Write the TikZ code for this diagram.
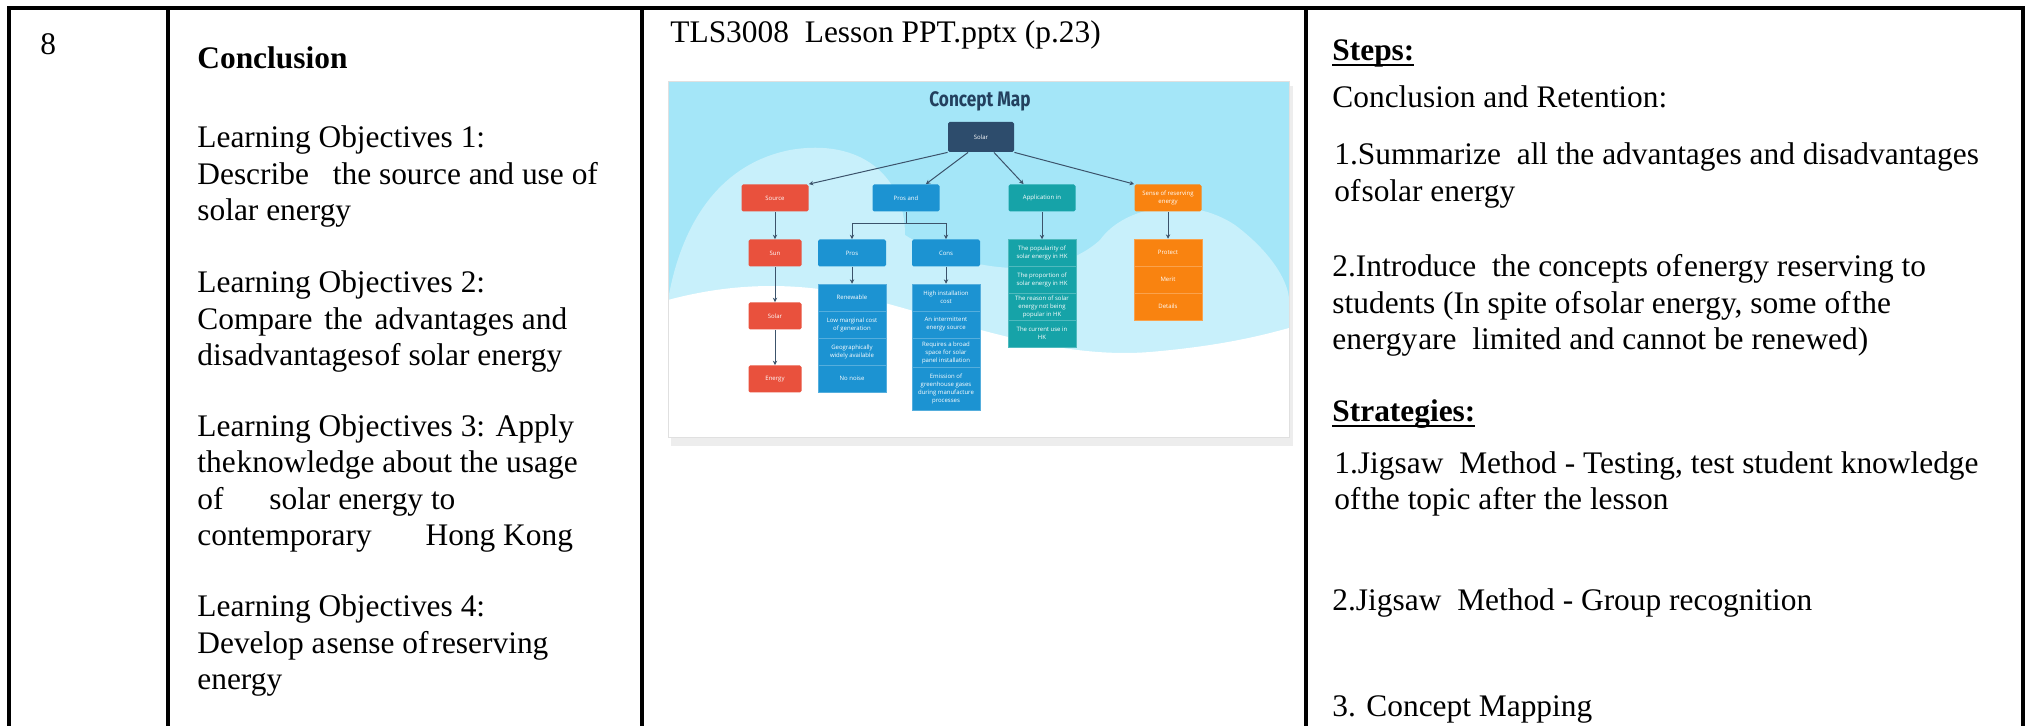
\documentclass[tikz,border=0pt]{standalone}
\usepackage{fontspec}
\setmainfont{Liberation Serif}
\newfontfamily\mapfont{Open Sans}
\newfontfamily\maptitlefont[FakeStretch=0.82]{Fira Sans}
\usetikzlibrary{arrows.meta,positioning,calc}

\definecolor{mapsky}{HTML}{A4E6F8}
\definecolor{mapcloud}{HTML}{C8F0FB}
\definecolor{maptitle}{HTML}{23405E}
\definecolor{mapnavy}{HTML}{2D4C6C}
\definecolor{mapred}{HTML}{E9513D}
\definecolor{mapblue}{HTML}{1C93D2}
\definecolor{mapteal}{HTML}{16A3A8}
\definecolor{maporange}{HTML}{F98310}
\definecolor{maparrow}{HTML}{3C536B}

\newcommand\cellfont{\fontsize{15.7pt}{18.25pt}\selectfont}
\newcommand\mapboxfont{\mapfont\fontsize{3pt}{4pt}\selectfont}
\newcommand\ulhead[1]{\setbox0\hbox{\bfseries #1}\rlap{\rule[-2.7pt]{\wd0}{1.4pt}}\box0}

\begin{document}
\begin{tikzpicture}[
    x=0.5pt, y=-0.5pt,
    >={Stealth[length=2.2pt,width=2.2pt]},
    tablerule/.style={
        line width=1.75pt,
        black
    },
    % multi-line cells sit on the baseline of their last line
    cell/.style={
        anchor=base west,
        align=left,
        inner sep=0pt,
        font=\cellfont
    },
    mapbox/.style={
        rectangle,
        rounded corners=0.8pt,
        fill=#1,
        text=white,
        font=\mapboxfont,
        align=center,
        inner sep=0pt,
        minimum width=33.5pt,
        minimum height=13.5pt
    },
    listbox/.style={
        mapbox=#1,
        rounded corners=0pt,
        draw=white!25!#1,
        line width=0.25pt,
        minimum width=34pt
    },
    link/.style={
        ->,
        maparrow,
        line width=0.5pt
    }
]
\useasboundingbox (0,0) rectangle (2031,726);

% Table rules (the row runs on past the bottom edge)
\draw[tablerule] (9,730) -- (9,8) -- (2023,8) -- (2023,730);
\draw[tablerule] (168,8) -- (168,730);
\draw[tablerule] (642,8) -- (642,730);
\draw[tablerule] (1306,8) -- (1306,730);

% Column 1: step number
\node[cell] (num) at (40,55) {8};

% Column 2: objectives
\node[cell, font=\cellfont\bfseries] (concl) at (197,69) {Conclusion};
\node[cell] (lo1) at (197,221) {Learning Objectives 1:\\Describe\hspace{8pt} the source and use of\\solar energy};
\node[cell] (lo2) at (197,366) {Learning Objectives 2:\\Compare\hspace{2pt} the\hspace{2pt} advantages and\\disadvantages\hspace{0.5pt}of solar energy};
\node[cell] (lo3) at (197,546) {Learning Objectives 3: Apply\\the\hspace{0.5pt}knowledge about the usage\\of\hspace{19pt} solar energy to\\contemporary\hspace{23pt} Hong Kong};
\node[cell] (lo4) at (197,690) {Learning Objectives 4:\\Develop a\hspace{0.5pt}sense of\hspace{1.5pt}reserving\\energy};

% Column 3: slide reference and concept map picture
\node[cell] (slide) at (670,43) {TLS3008\hspace{4pt} Lesson PPT.pptx (p.23)};

\fill[black!7] (671,86) rectangle (1293,446);
\fill[mapsky] (668,82) rectangle (1289,438);
\fill[mapcloud] (668,300) .. controls (680,230) and (715,165) .. (790,150)
    .. controls (860,138) and (905,175) .. (905,235)
    .. controls (960,270) and (1050,285) .. (1100,240)
    .. controls (1125,205) and (1190,195) .. (1235,225)
    .. controls (1275,255) and (1289,285) .. (1289,300)
    -- (1289,438) -- (668,438) -- cycle;
\fill[white] (668,300) .. controls (720,286) and (780,280) .. (850,294)
    .. controls (950,318) and (1050,360) .. (1150,352)
    .. controls (1220,346) and (1260,336) .. (1289,328)
    -- (1289,438) -- (668,438) -- cycle;
\draw[black!12, line width=0.5pt] (668,82) rectangle (1289,438);

\node[font=\maptitlefont\bfseries\fontsize{10.5pt}{12pt}\selectfont, text=maptitle] (maptitle) at (980,101) {Concept Map};

\node[mapbox=mapnavy, minimum width=33pt, minimum height=15pt] (solar) at (981,137) {Solar};

\node[mapbox=mapred] (source) at (775,198) {Source};
\node[mapbox=mapblue] (prosand) at (906,198) {Pros and};
\node[mapbox=mapteal] (appl) at (1042,198) {Application in};
\node[mapbox=maporange] (sense) at (1168,198) {Sense of reserving\\energy};

\draw[link] (solar.south west) -- (source.north east);
\draw[link] (solar.-130) -- (prosand.35);
\draw[link] (solar.-50) -- (appl.143);
\draw[link] (solar.south east) -- (sense.north west);

% Source chain
\node[mapbox=mapred, minimum width=26.5pt] (sun) at (775,253) {Sun};
\node[mapbox=mapred, minimum width=26.5pt] (solarr) at (775,316) {Solar};
\node[mapbox=mapred, minimum width=26.5pt] (energy) at (775,379) {Energy};

\draw[link] (source) -- (sun);
\draw[link] (sun) -- (solarr);
\draw[link] (solarr) -- (energy);

% Pros and cons
\node[mapbox=mapblue, minimum width=34pt] (pros) at (852,253) {Pros};
\node[mapbox=mapblue, minimum width=34pt] (cons) at (946,253) {Cons};

\draw[link] (prosand.south) -- ++(0,12) -| (pros.north);
\draw[link] (prosand.south) -- ++(0,12) -| (cons.north);

\node[listbox=mapblue] (pro1) at (852,297.5) {Renewable};
\node[listbox=mapblue] (pro2) at (852,324.5) {Low marginal cost\\of generation};
\node[listbox=mapblue] (pro3) at (852,351.5) {Geographically\\widely available};
\node[listbox=mapblue] (pro4) at (852,378.5) {No noise};

\node[listbox=mapblue] (con1) at (946,297.5) {High installation\\cost};
\node[listbox=mapblue] (con2) at (946,324.5) {An intermittent\\energy source};
\node[listbox=mapblue, minimum height=14.5pt] (con3) at (946,352.5) {Requires a broad\\space for solar\\panel installation};
\node[listbox=mapblue, minimum height=21.5pt] (con4) at (946,388.5) {Emission of\\greenhouse gases\\during manufacture\\processes};

\draw[link] (pros) -- (pro1);
\draw[link] (cons) -- (con1);

% Application in HK
\node[listbox=mapteal] (app1) at (1042,253) {The popularity of\\solar energy in HK};
\node[listbox=mapteal] (app2) at (1042,280) {The proportion of\\solar energy in HK};
\node[listbox=mapteal] (app3) at (1042,306.5) {The reason of solar\\energy not being\\popular in HK};
\node[listbox=mapteal] (app4) at (1042,333.5) {The current use in\\HK};

\draw[link] (appl) -- (app1);

% Sense of reserving energy
\node[listbox=maporange] (sen1) at (1168,252.5) {Protect};
\node[listbox=maporange] (sen2) at (1168,279.5) {Merit};
\node[listbox=maporange] (sen3) at (1168,306.5) {Details};

\draw[link] (sense) -- (sen1);

% Column 4: steps and strategies
\node[cell] (steps) at (1332,61) {\ulhead{Steps:}};
\node[cell] (retain) at (1332,108) {Conclusion and Retention:};
\node[cell] (st1) at (1334,201.5) {1.Summarize\hspace{4pt} all the advantages and disadvantages\\of\hspace{0.5pt}solar energy};
\node[cell] (st2) at (1332,350) {2.Introduce\hspace{4pt} the concepts of\hspace{1pt}energy reserving to\\students (In spite of\hspace{1pt}solar energy, some of\hspace{1pt}the\\energy\hspace{0.5pt}are\hspace{4pt} limited and cannot be renewed)};

\node[cell] (strat) at (1332,422) {\ulhead{Strategies:}};
\node[cell] (sg1) at (1334,510) {1.Jigsaw\hspace{4pt} Method - Testing, test student knowledge\\of\hspace{0.5pt}the topic after the lesson};
\node[cell] (sg2) at (1332,611) {2.Jigsaw\hspace{4pt} Method - Group recognition};
\node[cell] (sg3) at (1332,717) {3. Concept Mapping};

\end{tikzpicture}
\end{document}
